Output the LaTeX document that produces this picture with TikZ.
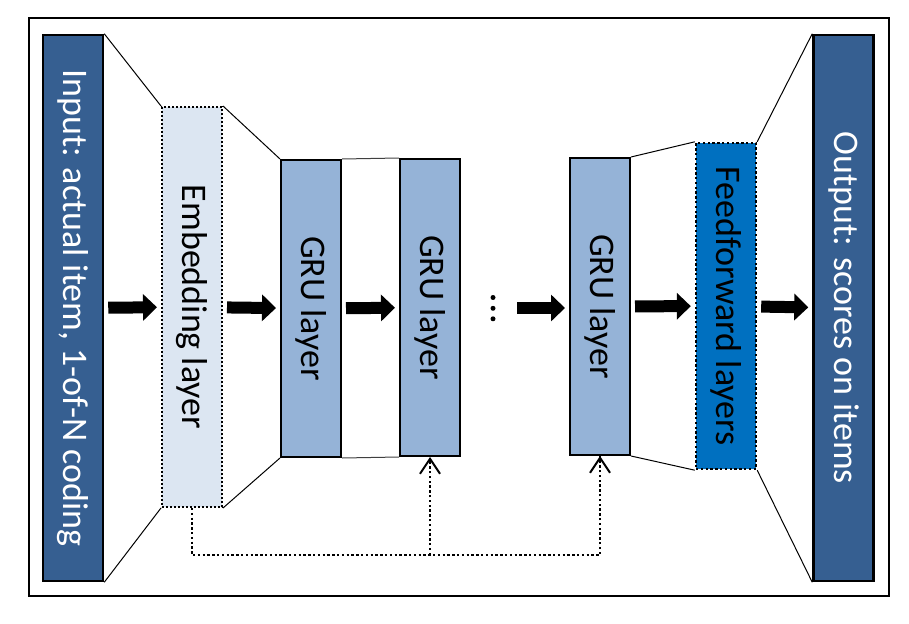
\documentclass[tikz,border=0pt]{standalone}
\usepackage{fontspec}
\setmainfont{Carlito}
\usepackage{graphicx}
\usetikzlibrary{arrows.meta,calc}
\definecolor{iofill}{HTML}{365F91}
\definecolor{embfill}{HTML}{DCE6F2}
\definecolor{grufill}{HTML}{95B3D7}
\definecolor{fffill}{HTML}{0070C0}
\tikzset{
  layer/.style={inner sep=0pt, font=\fontsize{36}{40}\selectfont},
  iobox/.style={layer, draw=black, line width=2.5pt, fill=iofill, text=white,
    minimum width=60pt, minimum height=546pt},
  embbox/.style={layer, draw=black, line width=2pt, dash pattern=on 2pt off 2pt,
    fill=embfill, minimum width=60pt, minimum height=400pt},
  grubox/.style={layer, draw=black, line width=2pt, fill=grufill,
    minimum width=60pt, minimum height=297pt},
  ffbox/.style={layer, draw=black, line width=2.4pt, dash pattern=on 2.4pt off 2.4pt,
    fill=fffill, minimum width=60pt, minimum height=326pt},
  funnel/.style={line width=1pt, draw=black},
  blockarrow/.style={line width=12pt, -{Triangle[length=14pt,width=26pt]},
    shorten <=4pt, shorten >=4pt},
  feedback/.style={line width=2.4pt, dash pattern=on 2.4pt off 2.4pt},
  feedtip/.style={-{Straight Barb[length=15pt,width=20pt,line width=2pt]}},
  dot/.style={circle, fill=black, inner sep=0pt, minimum size=5pt},
}
\begin{document}
\begin{tikzpicture}[x=1pt,y=-1pt]
\useasboundingbox (0,0) rectangle (909,623);
% outer frame
\node[draw=black, line width=1.2pt, minimum width=860pt, minimum height=578pt, inner sep=0pt]
  (frame) at (459,307) {};

% layers
\node[iobox]  (in)   at (73,308)    {\rotatebox{-90}{Input: actual item, 1-of-N coding}};
\node[embbox] (emb)  at (192,307)   {\rotatebox{-90}{Embedding layer}};
\node[grubox] (gru1) at (311,308.5) {\rotatebox{-90}{GRU layer}};
\node[grubox] (gru2) at (430,307.5) {\rotatebox{-90}{GRU layer}};
\node[grubox] (gru3) at (600,306.5) {\rotatebox{-90}{GRU layer}};
\node[ffbox]  (ff)   at (726,306)   {\rotatebox{-90}{Feedforward layers}};
\node[iobox]  (out)  at (843.5,308) {\rotatebox{-90}{Output: scores on items}};

% continuation dots
\node[dot] (dot1) at (493,297.5) {};
\node[dot] (dot2) at (493,308.3) {};
\node[dot] (dot3) at (493,318.8) {};
\coordinate (dotsR) at (517,308);

% funnel outlines between consecutive layers
\draw[funnel] (in.north east) -- (emb.north west);
\draw[funnel] (in.south east) -- (emb.south west);
\draw[funnel] (emb.north east) -- (gru1.north west);
\draw[funnel] (emb.south east) -- (gru1.south west);
\draw[funnel, draw=black!75] (gru1.north east) -- (gru2.north west);
\draw[funnel, draw=black!75] (gru1.south east) -- (gru2.south west);
\draw[funnel] (gru3.north east) -- (ff.north west);
\draw[funnel] (gru3.south east) -- (ff.south west);
\draw[funnel] (ff.north east) -- (out.north west);
\draw[funnel] (ff.south east) -- (out.south west);

% forward flow
\draw[blockarrow] (in) -- (emb);
\draw[blockarrow] (emb) -- (gru1);
\draw[blockarrow] (gru1) -- (gru2);
\draw[blockarrow, shorten <=0pt] (dotsR) -- (dotsR -| gru3.west);
\draw[blockarrow] (gru3) -- (ff);
\draw[blockarrow] (ff) -- (out);

% embedding fed to every GRU layer
\coordinate (bus) at ($(emb.south)+(0,47)$);
\draw[feedback] (emb.south) -- (bus) -| (gru3.south);
\draw[feedback, feedtip] (gru2.south |- bus) -- (gru2.south);
\draw[feedtip, line width=2pt] ($(gru3.south)+(0,1)$) -- (gru3.south);
\end{tikzpicture}
\end{document}
